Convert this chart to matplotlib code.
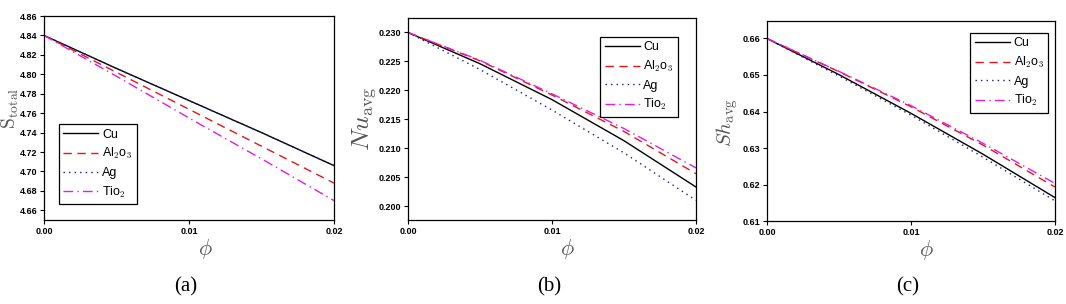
import numpy as np
import matplotlib
matplotlib.use("Agg")
from matplotlib import pyplot as plt
from matplotlib.ticker import FormatStrFormatter

plt.rcParams['mathtext.fontset'] = 'cm'
plt.rcParams['font.family'] = 'Liberation Sans'

# volume fraction
phi = [0.0, 0.005, 0.01, 0.015, 0.02]

# (a) total entropy generation
s_cu = [4.840, 4.806, 4.773, 4.740, 4.706]
s_al = [4.840, 4.802, 4.764, 4.726, 4.688]
s_ag = [4.840, 4.806, 4.773, 4.740, 4.706]
s_ti = [4.840, 4.798, 4.755, 4.713, 4.670]

# (b) average Nusselt number
nu_cu = [0.2300, 0.2246, 0.2184, 0.2113, 0.2033]
nu_al = [0.2300, 0.2251, 0.2192, 0.2129, 0.2056]
nu_ag = [0.2300, 0.2236, 0.2166, 0.2092, 0.2010]
nu_ti = [0.2300, 0.2252, 0.2194, 0.2134, 0.2066]

# (c) average Sherwood number
sh_cu = [0.6600, 0.6501, 0.6395, 0.6283, 0.6164]
sh_al = [0.6600, 0.6509, 0.6413, 0.6308, 0.6193]
sh_ag = [0.6600, 0.6497, 0.6390, 0.6275, 0.6155]
sh_ti = [0.6600, 0.6510, 0.6416, 0.6313, 0.6203]

labels = ["Cu", "Al$_2$o$_3$", "Ag", "Tio$_2$"]
colors = ["black", "#e8141c", "#1a1a8c", "#e619e6"]
styles = ["-", (0, (6, 4)), (0, (1, 3)), (0, (7, 3, 1, 3))]

fig = plt.figure(figsize=(10.66, 3.04), dpi=100)

panels = [
    dict(pos=[0.0413, 0.2763, 0.2720, 0.6710], data=[s_cu, s_al, s_ag, s_ti],
         ylim=(4.65, 4.86), yticks=np.arange(4.66, 4.861, 0.02), fmt="%.2f",
         ylabel=r"$\mathrm{S}_{\mathrm{total}}$", lsize=14, lpos=(-0.08, 0.55),
         leg=("upper left", (0.052, 0.47)), tag="(a)"),
    dict(pos=[0.3827, 0.2763, 0.2702, 0.6645], data=[nu_cu, nu_al, nu_ag, nu_ti],
         ylim=(0.1976, 0.2325), yticks=np.arange(0.200, 0.2301, 0.005), fmt="%.3f",
         ylabel=r"$Nu_{\mathrm{avg}}$", lsize=18.5, lpos=(-0.105, 0.50),
         leg=("upper right", (0.9375, 0.906)), tag="(b)"),
    dict(pos=[0.7195, 0.2730, 0.2702, 0.6580], data=[sh_cu, sh_al, sh_ag, sh_ti],
         ylim=(0.61, 0.6648), yticks=np.arange(0.61, 0.6601, 0.01), fmt="%.2f",
         ylabel=r"$Sh_{\mathrm{avg}}$", lsize=15, lpos=(-0.095, 0.49),
         leg=("upper right", (0.976, 0.94)), tag="(c)"),
]

for p in panels:
    ax = fig.add_axes(p["pos"])
    for ys, lab, c, ls in zip(p["data"], labels, colors, styles):
        ax.plot(phi, ys, color=c, linestyle=ls, linewidth=1.0, label=lab)
    ax.set_xlim(0, 0.02)
    ax.set_ylim(*p["ylim"])
    ax.set_xticks([0.0, 0.01, 0.02])
    ax.set_yticks(p["yticks"])
    ax.xaxis.set_major_formatter(FormatStrFormatter("%.2f"))
    ax.yaxis.set_major_formatter(FormatStrFormatter(p["fmt"]))
    ax.tick_params(direction="out", length=3, width=0.8, labelsize=6.5, pad=2)
    for t in ax.get_xticklabels() + ax.get_yticklabels():
        t.set_fontweight("bold")
    for sp in ax.spines.values():
        sp.set_linewidth(0.9)
    ax.set_xlabel(r"$\phi$", fontsize=16, color="#555555")
    ax.xaxis.set_label_coords(0.555, -0.085)
    ax.set_ylabel(p["ylabel"], fontsize=p["lsize"], color="#555555")
    ax.yaxis.set_label_coords(*p["lpos"])
    leg = ax.legend(loc=p["leg"][0], bbox_to_anchor=p["leg"][1], fontsize=9,
                    frameon=True, fancybox=False, handlelength=2.8,
                    labelspacing=0.45, borderpad=0.35, handletextpad=0.3,
                    borderaxespad=0)
    leg.get_frame().set_edgecolor("black")
    leg.get_frame().set_linewidth(0.9)
    leg.get_frame().set_alpha(1)
    x0 = p["pos"][0] + p["pos"][2] * 0.49
    fig.text(x0, 0.055, p["tag"], fontsize=15, family="Liberation Serif",
             ha="center", va="center")

fig.savefig("out.png", dpi=100)
